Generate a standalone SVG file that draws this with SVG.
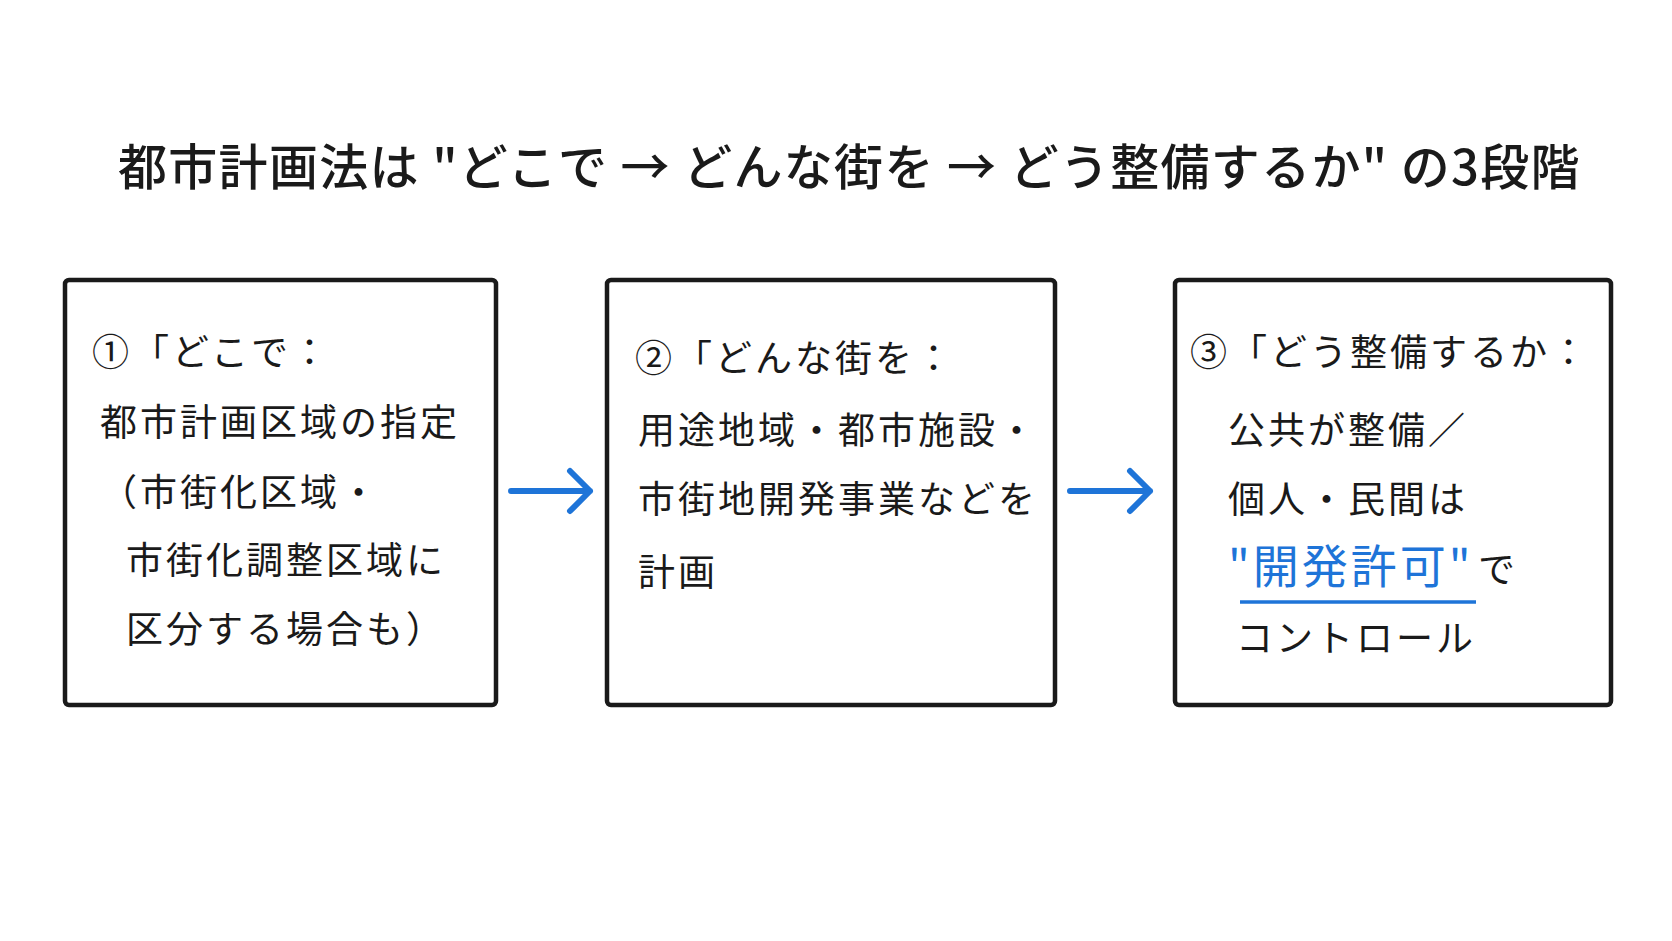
<svg xmlns="http://www.w3.org/2000/svg" width="1672" height="941" viewBox="0 0 1672 941">
<style>
text{font-family:"Noto Sans CJK JP","Noto Sans",sans-serif;fill:#1a1a1a}
.t{font-size:49px;font-weight:500;letter-spacing:1.3px}
.b{font-size:37px;letter-spacing:3px}
.box{fill:#fff;stroke:#1a1a1a;stroke-width:4.5}
.ar{stroke:#1e74d8;stroke-width:6;fill:none;stroke-linecap:round;stroke-linejoin:round}
</style>
<rect width="1672" height="941" fill="#fff"/>
<text class="t" x="118" y="185">都市計画法は "どこで → どんな街を → どう整備するか" の3段階</text>
<g id="node1">
<rect class="box" x="65" y="280" width="431" height="425" rx="4"/>
<text class="b" x="92" y="366">①「どこで：</text>
<text class="b" x="100" y="436">都市計画区域の指定</text>
<text class="b" x="100" y="506">（市街化区域・</text>
<text class="b" x="126" y="574">市街化調整区域に</text>
<text class="b" x="126" y="643">区分する場合も）</text>
</g>
<g id="node2">
<rect class="box" x="607" y="280" width="448" height="425" rx="4"/>
<text class="b" x="635" y="372">②「どんな街を：</text>
<text class="b" x="638" y="444">用途地域・都市施設・</text>
<text class="b" x="638" y="513">市街地開発事業などを</text>
<text class="b" x="638" y="586">計画</text>
</g>
<g id="node3">
<rect class="box" x="1175" y="280" width="436" height="425" rx="4"/>
<text class="b" x="1190" y="366">③「どう整備するか：</text>
<text class="b" x="1228" y="444">公共が整備／</text>
<text class="b" x="1228" y="513">個人・民間は</text>
<text x="1228" y="583" style="font-size:46px;fill:#1e74d8;letter-spacing:3px">"開発許可"</text>
<text class="b" x="1478" y="583">で</text>
<line x1="1240" y1="602" x2="1476" y2="602" stroke="#1e74d8" stroke-width="3.5"/>
<text class="b" x="1236" y="652">コントロール</text>
</g>
<g id="connectors">
<path class="ar" d="M511 491 H590 M570 471 L590 491 L570 511"/>
<path class="ar" d="M1070 491 H1150 M1130 471 L1150 491 L1130 511"/>
</g>
</svg>
